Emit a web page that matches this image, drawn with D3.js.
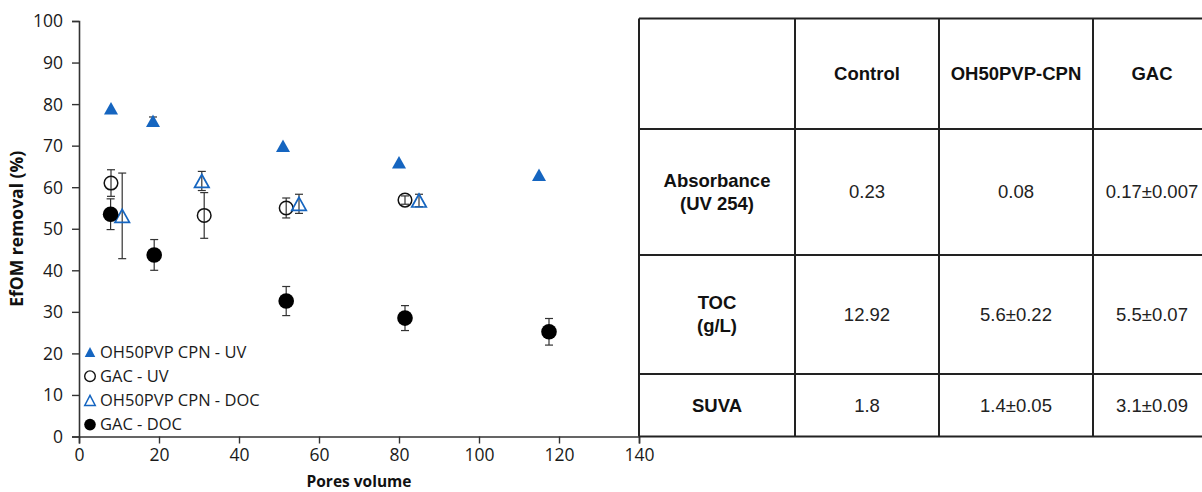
<!DOCTYPE html>
<html>
<head>
<meta charset="utf-8">
<script src="https://cdn.jsdelivr.net/npm/d3@7"></script>
<style>
  body { margin: 0; background: #fff; }
  svg { display: block; }
</style>
</head>
<body>
<div id="chart"></div>
<script>
// Data
var cpnUvPores  = [8, 18.5, 51, 80, 115];
var cpnUvValues = [79, 76, 70, 66, 63];
var cpnUvErr    = [0, 0.9, 0, 0, 0];

var gacUvPores  = [8, 31.3, 51.8, 81.5];
var gacUvValues = [61, 53.2, 55, 56.9];
var gacUvErr    = [3.2, 5.5, 2.4, 1];

var cpnDocPores  = [10.8, 30.7, 55, 85];
var cpnDocValues = [53.1, 61.5, 56, 56.8];
var cpnDocErr    = [10.3, 2.3, 2.3, 1.5];

var gacDocPores  = [7.9, 18.8, 51.8, 81.5, 117.5];
var gacDocValues = [53.5, 43.7, 32.6, 28.5, 25.2];
var gacDocErr    = [3.7, 3.7, 3.5, 3.0, 3.2];

var xTicks = [0, 20, 40, 60, 80, 100, 120, 140];
var yTicks = [0, 10, 20, 30, 40, 50, 60, 70, 80, 90, 100];

var legendNames = ["OH50PVP CPN - UV", "GAC - UV", "OH50PVP CPN - DOC", "GAC - DOC"];

// Table contents
var tableHeaders = ["", "Control", "OH50PVP-CPN", "GAC"];
var tableRowLabels = [["Absorbance", "(UV 254)"], ["TOC", "(g/L)"], ["SUVA"]];
var tableValues = [["0.23", "0.08", "0.17\u00b10.007"],
                   ["12.92", "5.6\u00b10.22", "5.5\u00b10.07"],
                   ["1.8", "1.4\u00b10.05", "3.1\u00b10.09"]];

var width = 1202, height = 492;
var blue = "#1565c0";

var svg = d3.select("#chart").append("svg")
    .attr("width", width)
    .attr("height", height);

var x = d3.scaleLinear().domain([0, 140]).range([79, 639]);
var y = d3.scaleLinear().domain([0, 100]).range([436.5, 21]);

// Axes
var xAxis = svg.append("g")
    .attr("transform", "translate(0," + y(0) + ")")
    .call(d3.axisBottom(x).tickValues(xTicks).tickSize(7).tickPadding(5));
var yAxis = svg.append("g")
    .attr("transform", "translate(" + x(0) + ",0)")
    .call(d3.axisLeft(y).tickValues(yTicks).tickSize(7).tickPadding(9));

[xAxis, yAxis].forEach(function(a) {
    a.select(".domain").attr("stroke", "#333").attr("stroke-width", 1.6);
    a.selectAll(".tick line").attr("stroke", "#333").attr("stroke-width", 1.4);
    a.selectAll(".tick text")
        .style("font-family", "'Open Sans', sans-serif")
        .style("font-size", "17.5px")
        .style("fill", "#1a1a1a");
});
yAxis.selectAll(".tick text").attr("dy", "0.34em");

svg.append("text")
    .attr("transform", "translate(23," + y(50) + ") rotate(-90)")
    .attr("text-anchor", "middle")
    .style("font-family", "'Open Sans', sans-serif")
    .style("font-weight", "bold")
    .style("font-size", "17.5px")
    .attr("fill", "#111")
    .text("EfOM removal (%)");

svg.append("text")
    .attr("x", 359)
    .attr("y", 487)
    .attr("text-anchor", "middle")
    .style("font-family", "'Open Sans', sans-serif")
    .style("font-weight", "bold")
    .style("font-size", "15.5px")
    .attr("fill", "#111")
    .text("Pores volume");

// Marker shapes
function triangle(w, h) {
    return "M0," + (-h / 2) + "L" + (w / 2) + "," + (h / 2) + "L" + (-w / 2) + "," + (h / 2) + "Z";
}

var series = [
    { px: cpnUvPores, py: cpnUvValues, err: cpnUvErr,
      draw: function(g) { g.append("path").attr("d", triangle(14, 12.5)).attr("fill", blue); },
      legend: function(g) { g.append("path").attr("d", triangle(10.5, 10)).attr("fill", blue); } },
    { px: gacUvPores, py: gacUvValues, err: gacUvErr,
      draw: function(g) { g.append("circle").attr("r", 6.8).attr("fill", "none").attr("stroke", "#111").attr("stroke-width", 1.5); },
      legend: function(g) { g.append("circle").attr("r", 5.3).attr("fill", "none").attr("stroke", "#111").attr("stroke-width", 1.4); } },
    { px: cpnDocPores, py: cpnDocValues, err: cpnDocErr,
      draw: function(g) { g.append("path").attr("d", triangle(14.5, 13)).attr("fill", "none").attr("stroke", blue).attr("stroke-width", 1.7); },
      legend: function(g) { g.append("path").attr("d", triangle(10.5, 10)).attr("fill", "none").attr("stroke", blue).attr("stroke-width", 1.5); } },
    { px: gacDocPores, py: gacDocValues, err: gacDocErr,
      draw: function(g) { g.append("circle").attr("r", 7.8).attr("fill", "#000"); },
      legend: function(g) { g.append("circle").attr("r", 5.8).attr("fill", "#000"); } }
];

series.forEach(function(s) {
    var pts = s.px.map(function(v, i) { return { x: v, y: s.py[i], e: s.err[i] }; });
    var g = svg.append("g");

    // error bars
    var eb = g.selectAll(".err")
        .data(pts.filter(function(d) { return d.e > 0; }))
        .enter().append("g")
        .attr("stroke", "#333")
        .attr("stroke-width", 1.2);
    eb.append("line")
        .attr("x1", d => x(d.x)).attr("x2", d => x(d.x))
        .attr("y1", d => y(d.y + d.e)).attr("y2", d => y(d.y - d.e));
    eb.append("line")
        .attr("x1", d => x(d.x) - 4).attr("x2", d => x(d.x) + 4)
        .attr("y1", d => y(d.y + d.e)).attr("y2", d => y(d.y + d.e));
    eb.append("line")
        .attr("x1", d => x(d.x) - 4).attr("x2", d => x(d.x) + 4)
        .attr("y1", d => y(d.y - d.e)).attr("y2", d => y(d.y - d.e));

    g.selectAll(".pt")
        .data(pts)
        .enter().append("g")
        .attr("transform", d => "translate(" + x(d.x) + "," + y(d.y) + ")")
        .each(function() { s.draw(d3.select(this)); });
});

// Legend
var legend = svg.append("g").attr("transform", "translate(90,352)");
legendNames.forEach(function(name, i) {
    var row = legend.append("g").attr("transform", "translate(0," + (i * 24.2) + ")");
    series[i].legend(row);
    row.append("text")
        .attr("x", 10)
        .attr("dy", "0.35em")
        .style("font-family", "'Open Sans', sans-serif")
        .style("font-size", "16.5px")
        .attr("fill", "#1a1a1a")
        .text(name);
});

// Table
var colEdges = [639, 795, 939, 1093, 1211];
var rowEdges = [18.5, 129, 255, 374, 436.5];
var tbl = svg.append("g");

var cellFont = "'Liberation Sans', Arial, sans-serif";

tbl.selectAll(".hl")
    .data(rowEdges)
    .enter().append("line")
    .attr("x1", colEdges[0]).attr("x2", colEdges[colEdges.length - 1])
    .attr("y1", d => d).attr("y2", d => d)
    .attr("stroke", "#222").attr("stroke-width", 2);

tbl.selectAll(".vl")
    .data(colEdges)
    .enter().append("line")
    .attr("x1", d => d).attr("x2", d => d)
    .attr("y1", rowEdges[0]).attr("y2", rowEdges[rowEdges.length - 1])
    .attr("stroke", "#222").attr("stroke-width", 2);

function colMid(i) { return (colEdges[i] + colEdges[i + 1]) / 2; }
function rowMid(i) { return (rowEdges[i] + rowEdges[i + 1]) / 2; }

tableHeaders.forEach(function(h, i) {
    tbl.append("text")
        .attr("x", colMid(i)).attr("y", rowMid(0))
        .attr("dy", "0.35em")
        .attr("text-anchor", "middle")
        .style("font-family", cellFont)
        .style("font-weight", "bold")
        .style("font-size", "18.5px")
        .attr("fill", "#111")
        .text(h);
});

tableRowLabels.forEach(function(lines, r) {
    var t = tbl.append("text")
        .attr("text-anchor", "middle")
        .style("font-family", cellFont)
        .style("font-weight", "bold")
        .style("font-size", "18.5px")
        .attr("fill", "#111");
    lines.forEach(function(line, k) {
        t.append("tspan")
            .attr("x", colMid(0))
            .attr("y", rowMid(r + 1) + (k - (lines.length - 1) / 2) * 23)
            .attr("dy", "0.35em")
            .text(line);
    });
});

tableValues.forEach(function(vals, r) {
    vals.forEach(function(v, c) {
        tbl.append("text")
            .attr("x", colMid(c + 1)).attr("y", rowMid(r + 1))
            .attr("dy", "0.35em")
            .attr("text-anchor", "middle")
            .style("font-family", cellFont)
            .style("font-size", "18.5px")
            .attr("fill", "#222")
            .text(v);
    });
});
</script>
</body>
</html>
